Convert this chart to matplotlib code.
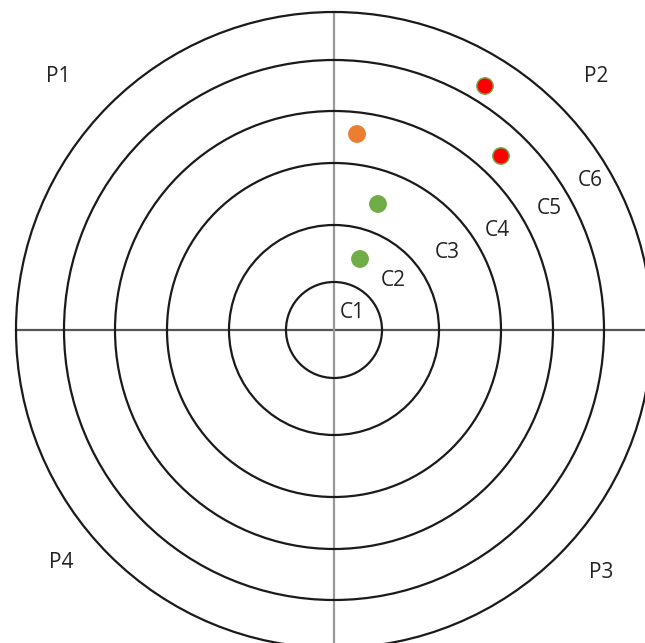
import matplotlib
matplotlib.use("Agg")
import matplotlib.pyplot as plt
from matplotlib.patches import Circle

# ring radii (C1..C6), centre at origin
ring_names = ["C1", "C2", "C3", "C4", "C5", "C6"]
ring_radii = [48, 105, 167, 219, 270, 318]
ring_label_x = [18, 59, 113, 163, 215, 256]
ring_label_y = [17, 50, 77, 100, 122, 150]

# quadrant labels
quad_names = ["P1", "P2", "P3", "P4"]
quad_x = [-276, 262, 267, -273]
quad_y = [253, 254, -242, -232]

# points
pt_x = [151, 167, 23, 44, 26]
pt_y = [244, 174, 196, 126, 71]
pt_colors = ["#ff0000", "#ff0000", "#ed7d31", "#70ad47", "#70ad47"]
pt_edges = ["#70ad47", "#70ad47", "#ed7d31", "#70ad47", "#70ad47"]

fig = plt.figure(figsize=(6.45, 6.43), dpi=100)
ax = fig.add_axes([0, 0, 1, 1])
ax.set_xlim(-334, 311)
ax.set_ylim(-313, 330)
ax.set_aspect("equal")
ax.axis("off")

R = max(ring_radii)
ax.plot([-R, R], [0, 0], color="#555555", lw=1.6, zorder=1)
ax.plot([0, 0], [-R, R], color="#999999", lw=1.6, zorder=1)

for r in ring_radii:
    ax.add_patch(Circle((0, 0), r, fill=False, ec="#1a1a1a", lw=1.6, zorder=2))

for name, x, y in zip(ring_names, ring_label_x, ring_label_y):
    ax.text(x, y, name, ha="center", va="center", fontsize=15,
            family="Open Sans", color="#222222", zorder=3)

for name, x, y in zip(quad_names, quad_x, quad_y):
    ax.text(x, y, name, ha="center", va="center", fontsize=15,
            family="Open Sans", color="#222222", zorder=3)

ax.scatter(pt_x, pt_y, s=140, c=pt_colors, edgecolors=pt_edges,
           linewidths=1.0, zorder=4)

fig.savefig("out.png", dpi=100)
